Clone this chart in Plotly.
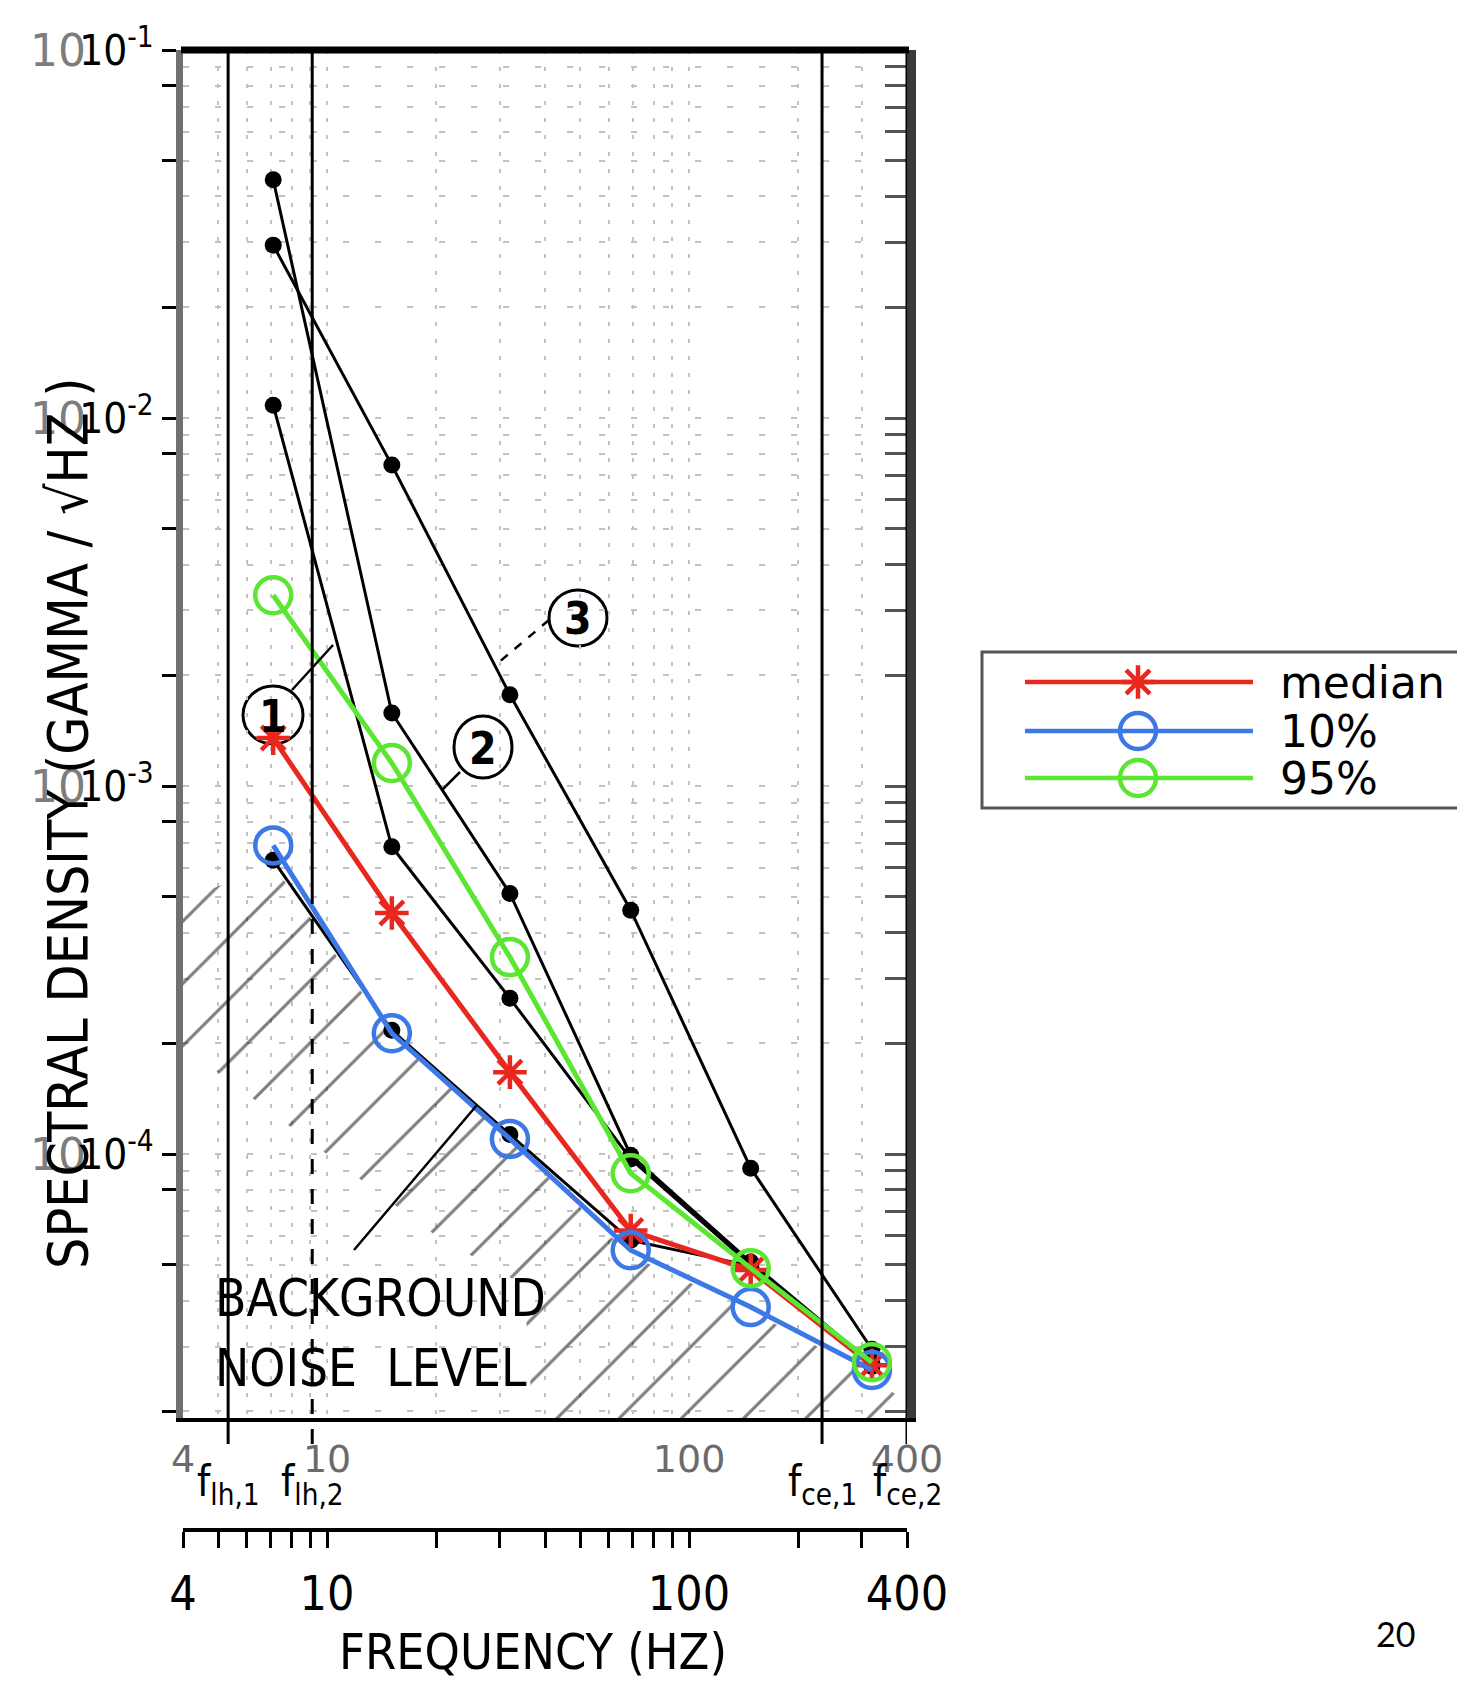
import math
import plotly.graph_objects as go

W, H = 1457, 1682

# ---------------- data ----------------
freq = [7.1, 15.1, 32.0, 69.0, 148.0, 320.0]
median = [1.35e-3, 4.52e-4, 1.67e-4, 6.2e-5, 4.84e-5, 2.67e-5]
p10 = [6.9e-4, 2.13e-4, 1.10e-4, 5.48e-5, 3.84e-5, 2.59e-5]
p95 = [3.30e-3, 1.155e-3, 3.43e-4, 8.87e-5, 4.90e-5, 2.72e-5]

curve_A = [2.95e-2, 7.45e-3, 1.77e-3, 4.60e-4, 9.16e-5, 2.95e-5]
curve_B = [4.44e-2, 1.58e-3, 5.11e-4, 9.93e-5, 5.09e-5, 2.70e-5]
curve_C = [1.084e-2, 6.84e-4, 2.65e-4, 9.70e-5, 5.00e-5, 2.70e-5]
curve_D = [6.29e-4, 2.17e-4, 1.13e-4, 5.83e-5, 4.97e-5, 2.65e-5]

noise_upper_f = [4, 7.1, 15.1, 32, 69, 148, 320, 400]
noise_upper = [4.9e-4, 6.1e-4, 2.1e-4, 1.08e-4, 5.3e-5, 3.75e-5, 2.5e-5, 2.1e-5]
noise_lower_f = [4, 5.3, 9.1, 20, 35, 37, 400]
noise_lower = [1.95e-4, 1.6e-4, 1.07e-4, 6.0e-5, 4.4e-5, 1.9e-5, 1.9e-5]

f_marks = [5.33, 9.1, 233, 400]
f_names = ["f<sub>lh,1</sub>", "f<sub>lh,2</sub>", "f<sub>ce,1</sub>", "f<sub>ce,2</sub>"]

x_major = [4, 10, 100, 400]
x_major_text = ["4", "10", "100", "400"]
y_decades = [1e-1, 1e-2, 1e-3, 1e-4]
y_decade_text = ["10<sup>-1</sup>", "10<sup>-2</sup>", "10<sup>-3</sup>", "10<sup>-4</sup>"]

series_names = ["median", "10%", "95%"]

# ---------------- styling ----------------
RED, BLUE, GREEN = "#E8281E", "#3C78E6", "#5AE632"
GRID = "#c2c2c2"
NARROW = "Liberation Sans Narrow, Arial Narrow, DejaVu Sans Condensed, Liberation Sans"
X_RANGE = [math.log10(4), math.log10(400)]
Y_RANGE = [-4.717, -1]


def px(x):
    return x / W


def py(y):
    return 1 - y / H


x_minor = [m * 10 ** e for e in range(0, 3) for m in range(1, 10) if 4 <= m * 10 ** e <= 400]
y_minor = [m * 10 ** e for e in range(-5, -1) for m in range(1, 10) if 1.9e-5 <= m * 10 ** e <= 0.1]
y_major_ticks = y_decades + [m * 10 ** e for e in range(-5, -1) for m in (2, 5, 8)]
y_major_text = y_decade_text + [""] * (len(y_major_ticks) - len(y_decades))
x_low_ticks = x_minor
x_low_text = [x_major_text[x_major.index(v)] if v in x_major else "" for v in x_low_ticks]

fig = go.Figure()

# hatched background noise band
fig.add_trace(go.Scatter(x=noise_lower_f, y=noise_lower, mode="lines", line=dict(width=0),
                         showlegend=False, hoverinfo="skip"))
fig.add_trace(go.Scatter(x=noise_upper_f, y=noise_upper, mode="lines", line=dict(width=0),
                         fill="tonexty", fillcolor="rgba(0,0,0,0)",
                         fillpattern=dict(shape="/", fgcolor="black", bgcolor="rgba(0,0,0,0)",
                                          size=44, solidity=0.07),
                         showlegend=False, hoverinfo="skip"))

# black scanned curves
for yv in (curve_A, curve_B, curve_C, curve_D):
    fig.add_trace(go.Scatter(x=freq, y=yv, mode="lines+markers",
                             line=dict(color="black", width=3),
                             marker=dict(color="black", size=17, symbol="circle"),
                             showlegend=False, hoverinfo="skip"))

# coloured statistics
styles = [
    (median, RED, "asterisk-open", 28),
    (p10, BLUE, "circle-open", 36),
    (p95, GREEN, "circle-open", 36),
]
for (yv, col, sym, sz), name in zip(styles, series_names):
    fig.add_trace(go.Scatter(x=freq, y=yv, mode="lines+markers", name=name,
                             line=dict(color=col, width=5),
                             marker=dict(symbol=sym, size=sz, color=col,
                                         line=dict(color=col, width=4.5)),
                             showlegend=False))

# invisible helpers so the extra axes are drawn
fig.add_trace(go.Scatter(x=[10], y=[1e-3], xaxis="x2", yaxis="y", mode="markers",
                         marker=dict(opacity=0), showlegend=False, hoverinfo="skip"))
fig.add_trace(go.Scatter(x=[10], y=[1e-3], xaxis="x", yaxis="y2", mode="markers",
                         marker=dict(opacity=0), showlegend=False, hoverinfo="skip"))

# legend samples (pixel axes)
leg_rows = [682, 731, 778]
for (yv, col, sym, sz), name, ry in zip(styles, series_names, leg_rows):
    fig.add_trace(go.Scatter(x=[1138], y=[ry], xaxis="x3", yaxis="y3", mode="markers",
                             marker=dict(symbol=sym, size=sz, color=col,
                                         line=dict(color=col, width=4.5)),
                             showlegend=False, hoverinfo="skip"))

shapes = []
annotations = []

# frame top
shapes.append(dict(type="line", xref="paper", yref="paper", x0=px(181), x1=px(909),
                   y0=py(50), y1=py(50), line=dict(color="black", width=7)))

# characteristic frequency lines
for i, f in enumerate(f_marks):
    if i == 1:
        shapes.append(dict(type="line", xref="x", yref="paper", x0=f, x1=f, y0=py(900), y1=py(50),
                           line=dict(color="black", width=3)))
        shapes.append(dict(type="line", xref="x", yref="paper", x0=f, x1=f, y0=py(1444), y1=py(900),
                           line=dict(color="black", width=3, dash="longdash")))
    else:
        shapes.append(dict(type="line", xref="x", yref="paper", x0=f, x1=f, y0=py(1444), y1=py(50),
                           line=dict(color="black", width=3)))
    annotations.append(dict(x=math.log10(f), y=py(1484), xref="x", yref="paper", text=f_names[i],
                            showarrow=False, xanchor="center", yanchor="middle",
                            font=dict(family=NARROW, size=42, color="black")))

# circled curve labels
for (cx, cy, rx, ry, lab) in [(273, 715, 30, 29, "1"), (483, 747, 29, 31, "2"), (578, 618, 29, 28, "3")]:
    shapes.append(dict(type="circle", xref="paper", yref="paper", layer="below",
                       x0=px(cx - rx), x1=px(cx + rx), y0=py(cy + ry), y1=py(cy - ry),
                       line=dict(color="black", width=3), fillcolor="white"))
    annotations.append(dict(x=px(cx), y=py(cy + 1), xref="paper", yref="paper", text="<b>" + lab + "</b>",
                            showarrow=False, xanchor="center", yanchor="middle",
                            font=dict(family=NARROW, size=44, color="black")))
for (x0, y0, x1, y1, dash) in [(292, 690, 333, 645, "solid"), (460, 772, 442, 790, "solid"),
                               (549, 620, 498, 663, "dash"), (354, 1250, 477, 1105, "solid")]:
    shapes.append(dict(type="line", xref="paper", yref="paper", x0=px(x0), y0=py(y0), x1=px(x1), y1=py(y1),
                       line=dict(color="black", width=2.5, dash=dash)))

# background noise text
for txt, yy in [("BACKGROUND", 1298), ("NOISE  LEVEL", 1368)]:
    annotations.append(dict(x=px(213), y=py(yy), xref="paper", yref="paper", text=txt, showarrow=False,
                            xanchor="left", yanchor="middle",
                            font=dict(family=NARROW, size=51, color="black")))

# grey overlapping y labels
for d in y_decades:
    yy = 50 + 368 * (-1 - math.log10(d))
    annotations.append(dict(x=px(58), y=py(yy), xref="paper", yref="paper", text="10",
                            showarrow=False, xanchor="center", yanchor="middle",
                            font=dict(family="DejaVu Sans", size=44, color="#7d7d7d")))

# axis titles
annotations.append(dict(x=px(68), y=py(823), xref="paper", yref="paper", textangle=-90,
                        text="SPECTRAL DENSITY (GAMMA / √HZ )", showarrow=False,
                        xanchor="center", yanchor="middle",
                        font=dict(family=NARROW, size=55, color="black")))
annotations.append(dict(x=px(533), y=py(1652), xref="paper", yref="paper",
                        text="FREQUENCY (HZ)", showarrow=False, xanchor="center", yanchor="middle",
                        font=dict(family=NARROW, size=50, color="black")))

# legend box
shapes.append(dict(type="rect", xref="paper", yref="paper", x0=px(982), x1=px(1530), y0=py(808), y1=py(652),
                   line=dict(color="#555555", width=3), fillcolor="white", layer="below"))
for (yv, col, sym, sz), name, ry in zip(styles, series_names, leg_rows):
    shapes.append(dict(type="line", xref="paper", yref="paper", x0=px(1025), x1=px(1253), y0=py(ry), y1=py(ry),
                       line=dict(color=col, width=4.5)))
    annotations.append(dict(x=px(1278), y=py(ry), xref="paper", yref="paper", text=name, showarrow=False,
                            xanchor="left", yanchor="middle",
                            font=dict(family="DejaVu Sans", size=44, color="black")))

# page number
annotations.append(dict(x=px(1395), y=py(1633), xref="paper", yref="paper", text="20", showarrow=False,
                        xanchor="center", yanchor="middle",
                        font=dict(family="Lato", size=34, color="black")))

fig.update_layout(
    width=W, height=H, autosize=False,
    margin=dict(l=0, r=0, t=0, b=0, pad=0, autoexpand=False),
    paper_bgcolor="white", plot_bgcolor="rgba(0,0,0,0)",
    showlegend=False,
    shapes=shapes, annotations=annotations,
    xaxis=dict(type="log", range=X_RANGE, domain=[px(183), px(907)], anchor="y", automargin=False,
               showline=True, linewidth=4, linecolor="black", ticks="",
               tickmode="array", tickvals=x_major, ticktext=x_major_text,
               tickfont=dict(family="DejaVu Sans", size=38, color="#6b6b6b"), ticklabelstandoff=4,
               showgrid=True, gridcolor=GRID, gridwidth=2, griddash="4px,13px", zeroline=False,
               minor=dict(tickmode="array", tickvals=x_minor, showgrid=True, gridcolor=GRID,
                          gridwidth=2, griddash="4px,13px", ticks="")),
    yaxis=dict(type="log", range=Y_RANGE, domain=[py(1418), py(50)], anchor="x", automargin=False,
               showline=True, linewidth=7, linecolor="#707070",
               tickmode="array", tickvals=y_major_ticks, ticktext=y_major_text,
               ticks="outside", ticklen=14, tickwidth=3, tickcolor="black",
               tickfont=dict(family=NARROW, size=42, color="black"), ticklabelstandoff=0,
               showgrid=False, zeroline=False,
               minor=dict(tickmode="array", tickvals=y_minor, showgrid=True, gridcolor=GRID,
                          gridwidth=2, griddash="6px,26px", ticks="")),
    xaxis2=dict(type="log", range=X_RANGE, overlaying="x", anchor="free", position=py(1530),
                automargin=False, showline=True, linewidth=4, linecolor="black",
                tickmode="array", tickvals=x_low_ticks, ticktext=x_low_text,
                ticks="outside", ticklen=16, tickwidth=3, tickcolor="black",
                tickfont=dict(family=NARROW, size=48, color="black"), ticklabelstandoff=4,
                showgrid=False, zeroline=False),
    yaxis2=dict(type="log", range=Y_RANGE, overlaying="y", side="right", anchor="x", automargin=False,
                showline=True, linewidth=9, linecolor="#3a3a3a",
                tickmode="array", tickvals=y_minor, ticks="inside", ticklen=22, tickwidth=3,
                tickcolor="#555555", showticklabels=False, showgrid=False, zeroline=False),
    xaxis3=dict(domain=[0, 1], range=[0, W], anchor="y3", visible=False, fixedrange=True, automargin=False),
    yaxis3=dict(domain=[0, 1], range=[H, 0], anchor="x3", visible=False, fixedrange=True, automargin=False),
)

fig.write_html("out.html", config={"displayModeBar": False},
               post_script="document.body.style.margin='0px';")
